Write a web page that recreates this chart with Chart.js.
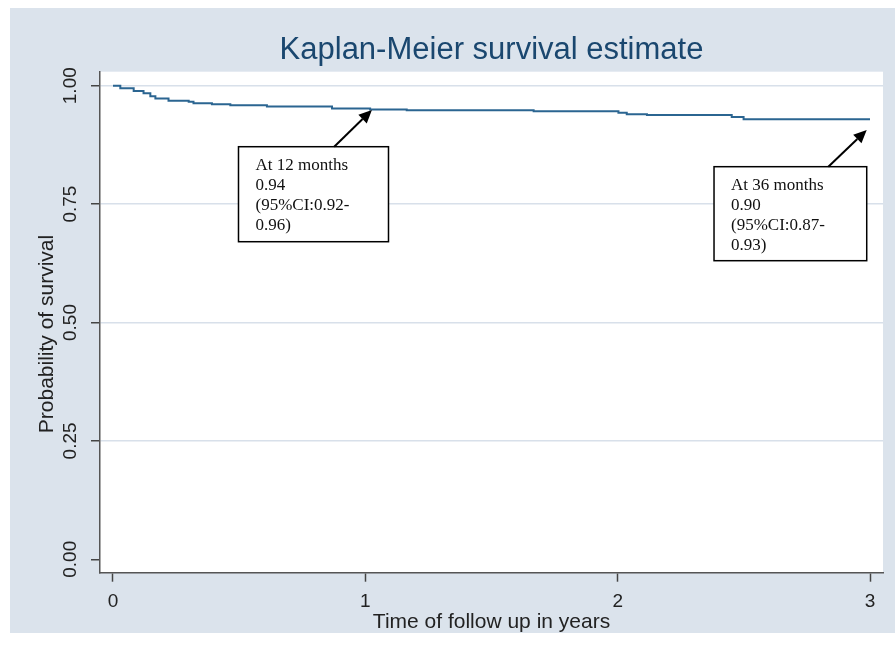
<!DOCTYPE html>
<html>
<head>
<meta charset="utf-8">
<script src="https://cdn.jsdelivr.net/npm/chart.js@4/dist/chart.umd.min.js"></script>
<style>
  html, body { margin: 0; padding: 0; background: #ffffff; }
  #wrap { width: 895px; height: 658px; position: relative; }
</style>
</head>
<body>
<div id="wrap"><canvas id="c" width="895" height="658"></canvas></div>
<script>
// ---- data ----
const times = [0, 0.029, 0.082, 0.121, 0.148, 0.168, 0.220, 0.300, 0.319, 0.392, 0.465, 0.610, 0.868, 1.019, 1.164, 1.667, 2.003, 2.036, 2.116, 2.452, 2.499, 3.000];
const survival = [1.000, 0.9945, 0.989, 0.984, 0.978, 0.973, 0.968, 0.966, 0.963, 0.961, 0.959, 0.956, 0.952, 0.950, 0.948, 0.946, 0.943, 0.940, 0.938, 0.934, 0.929, 0.929];
const xTicks = [0, 1, 2, 3];
const yTicks = [0, 0.25, 0.5, 0.75, 1];
const chartTitle = 'Kaplan-Meier survival estimate';
const xTitle = 'Time of follow up in years';
const yTitle = 'Probability of survival';
// annotation anchors (arrow tips) in data units and their texts
const noteTipT = [1.026, 2.987];
const noteTipS = [0.9487, 0.9065];
const noteText = [
  ['At 12 months', '0.94', '(95%CI:0.92-', '0.96)'],
  ['At 36 months', '0.90', '(95%CI:0.87-', '0.93)']
];

// ---- layout / style (not data) ----
const noteBox = [
  { dx: -133.4, dy: 36.7, w: 150, h: 95, tailDx: -37.7 },
  { dx: -152.7, dy: 36.7, w: 152.7, h: 94, tailDx: -38.4 }
];

const points = times.map((t, i) => ({ x: t, y: survival[i] }));

const bgPlugin = {
  id: 'bg',
  beforeDraw(chart) {
    const ctx = chart.ctx;
    const a = chart.chartArea;
    ctx.save();
    ctx.fillStyle = '#ffffff';
    ctx.fillRect(0, 0, chart.width, chart.height);
    ctx.fillStyle = '#dbe3ec';
    ctx.fillRect(10, 8, 885, 625);
    ctx.fillStyle = '#ffffff';
    ctx.fillRect(a.left, a.top, a.right - a.left, a.bottom - a.top);
    ctx.restore();
  },
  afterDraw(chart) {
    const ctx = chart.ctx;
    const a = chart.chartArea;
    ctx.save();
    // chart title, centred over the plot region
    ctx.fillStyle = '#1a476f';
    ctx.font = '31px "Liberation Sans", Arial, sans-serif';
    ctx.textAlign = 'center';
    ctx.textBaseline = 'middle';
    ctx.fillText(chartTitle, (a.left + a.right) / 2, 50);
    // y-axis title
    ctx.translate(47, 334);
    ctx.rotate(-Math.PI / 2);
    ctx.fillStyle = '#222222';
    ctx.font = '21px "Liberation Sans", Arial, sans-serif';
    ctx.fillText(yTitle, 0, 0);
    ctx.restore();
  }
};

const notePlugin = {
  id: 'notes',
  afterDatasetsDraw(chart) {
    const ctx = chart.ctx;
    const xs = chart.scales.x, ys = chart.scales.y;
    ctx.save();
    noteTipT.forEach((t, i) => {
      const tx = xs.getPixelForValue(t);
      const ty = ys.getPixelForValue(noteTipS[i]);
      const b = noteBox[i];
      const left = tx + b.dx, top = ty + b.dy;
      ctx.fillStyle = '#ffffff';
      ctx.fillRect(left, top, b.w, b.h);
      ctx.strokeStyle = '#000000';
      ctx.lineWidth = 1.5;
      ctx.strokeRect(left, top, b.w, b.h);
      ctx.fillStyle = '#111111';
      ctx.font = '17px "Liberation Serif", "Times New Roman", serif';
      ctx.textAlign = 'left';
      ctx.textBaseline = 'middle';
      noteText[i].forEach((line, k) => {
        ctx.fillText(line, left + 17, top + 19 + k * 20);
      });
      const sx = tx + b.tailDx, sy = top;
      const ang = Math.atan2(ty - sy, tx - sx);
      const hl = 13, hw = 6;
      const bx = tx - hl * Math.cos(ang), by = ty - hl * Math.sin(ang);
      ctx.strokeStyle = '#000000';
      ctx.lineWidth = 2;
      ctx.beginPath();
      ctx.moveTo(sx, sy);
      ctx.lineTo(bx, by);
      ctx.stroke();
      ctx.fillStyle = '#000000';
      ctx.beginPath();
      ctx.moveTo(tx, ty);
      ctx.lineTo(bx - hw * Math.sin(ang), by + hw * Math.cos(ang));
      ctx.lineTo(bx + hw * Math.sin(ang), by - hw * Math.cos(ang));
      ctx.closePath();
      ctx.fill();
    });
    ctx.restore();
  }
};

new Chart(document.getElementById('c'), {
  type: 'line',
  data: {
    datasets: [{
      data: points,
      stepped: 'before',
      borderColor: '#2b6591',
      borderWidth: 2,
      pointRadius: 0,
      fill: false
    }]
  },
  options: {
    responsive: false,
    animation: false,
    layout: { padding: { left: 10, right: 12, top: 71.7, bottom: 25 } },
    plugins: {
      legend: { display: false },
      tooltip: { enabled: false },
      title: { display: false }
    },
    scales: {
      x: {
        type: 'linear',
        min: -0.0515,
        max: 3.0515,
        afterFit(scale) { scale.height = 60.3; },
        afterBuildTicks(scale) { scale.ticks = xTicks.map(v => ({ value: v })); },
        ticks: {
          color: '#222222',
          font: { family: '"Liberation Sans", Arial, sans-serif', size: 19 },
          padding: 9,
          maxRotation: 0,
          minRotation: 0,
          callback: v => String(v)
        },
        grid: { drawOnChartArea: false, drawTicks: true, tickLength: 9, tickColor: '#444444', tickWidth: 1.5 },
        border: { color: '#555555', width: 1.5 },
        title: {
          display: true,
          text: xTitle,
          color: '#222222',
          font: { family: '"Liberation Sans", Arial, sans-serif', size: 21, lineHeight: 1 },
          padding: 0
        }
      },
      y: {
        type: 'linear',
        min: -0.0283,
        max: 1.0296,
        afterFit(scale) { scale.width = 90; },
        afterBuildTicks(scale) { scale.ticks = yTicks.map(v => ({ value: v })); },
        ticks: {
          color: '#222222',
          font: { family: '"Liberation Sans", Arial, sans-serif', size: 19 },
          padding: 1.5,
          minRotation: 90,
          maxRotation: 90,
          crossAlign: 'center',
          callback: v => Number(v).toFixed(2)
        },
        grid: {
          color: c => (c.tick && c.tick.value === 0) ? 'rgba(0,0,0,0)' : '#d8e0ea',
          lineWidth: 1.5,
          drawTicks: true,
          tickLength: 9,
          tickColor: '#444444',
          tickWidth: 1.5
        },
        border: { color: '#555555', width: 1.5 }
      }
    }
  },
  plugins: [bgPlugin, notePlugin]
});
</script>
</body>
</html>
